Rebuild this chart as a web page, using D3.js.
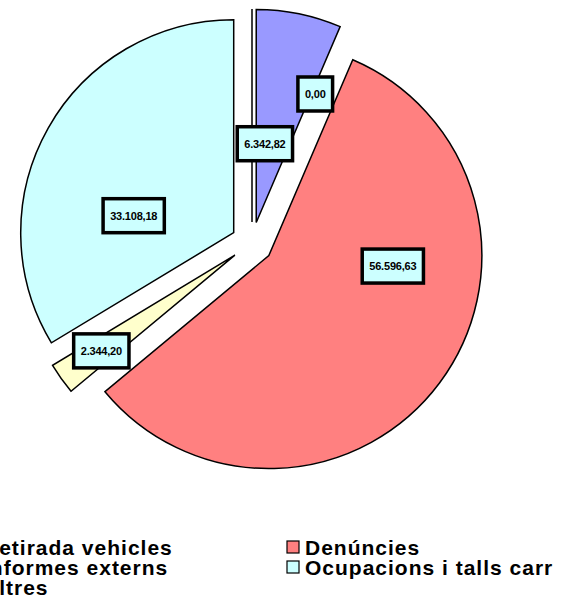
<!DOCTYPE html>
<html>
<head>
<meta charset="utf-8">
<script src="https://cdn.jsdelivr.net/npm/d3@7"></script>
<style>
  html, body { margin: 0; padding: 0; background: #fff; }
  svg { display: block; font-family: Arial, "Liberation Sans", sans-serif; }
</style>
</head>
<body>
<div class="chart"></div>
<script>
// chart data
var categories = ['Retirada vehicles', 'Denúncies', 'Informes externs', 'Ocupacions i talls carr', 'Altres'];
var values = [6342.82, 56596.63, 2344.20, 33108.18, 0];
var colors = ['#9999FF', '#FF8080', '#FFFFCC', '#CCFFFF', '#660066'];

// where each value label sits (degrees clockwise from top, fraction of radius)
var labelAngles = [7.4, 99.3, 234.4, 283, 23];
var labelRadii = [0.47, 0.67, 0.87, 0.57, 0.76];

var w = 562, h = 599;
var cx = 252, cy = 243, r = 213, explode = 21;

var svg = d3.select('.chart')
    .append('svg')
    .attr('width', w)
    .attr('height', h);

var locale = d3.formatLocale({decimal: ',', thousands: '.', grouping: [3], currency: ['', '']});
var fmt = locale.format(',.2f');

var pie = d3.pie().sort(null).value(function(d){ return d; });
var arcs = pie(values);
var arc = d3.arc().innerRadius(0).outerRadius(r);

var g = svg.append('g').attr('transform', 'translate(' + cx + ',' + cy + ')');

// draw zero slices first so they sit under the others
var order = arcs.map(function(d, i){ return i; }).sort(function(a, b){
    return (values[a] === 0 ? 0 : 1) - (values[b] === 0 ? 0 : 1);
});

g.selectAll('path.slice')
    .data(order.map(function(i){ return {a: arcs[i], i: i}; }))
    .enter()
    .append('path')
    .attr('class', 'slice')
    .attr('d', function(d){ return arc(d.a); })
    .attr('transform', function(d){
        var mid = (d.a.startAngle + d.a.endAngle) / 2;
        return 'translate(' + (explode * Math.sin(mid)) + ',' + (-explode * Math.cos(mid)) + ')';
    })
    .style('fill', function(d){ return colors[d.i]; })
    .style('stroke', '#000')
    .style('stroke-width', 1.5)
    .style('stroke-linejoin', 'miter');

// value labels
var angle = d3.scaleLinear().domain([0, 360]).range([0, 2 * Math.PI]);
var rad = d3.scaleLinear().domain([0, 1]).range([0, r]);

var labels = g.selectAll('g.lbl')
    .data(values)
    .enter()
    .append('g')
    .attr('class', 'lbl')
    .attr('transform', function(d, i){
        var a = angle(labelAngles[i]), rr = rad(labelRadii[i]);
        return 'translate(' + (rr * Math.sin(a)) + ',' + (-rr * Math.cos(a)) + ')';
    });

labels.append('rect')
    .style('fill', '#CCFFFF')
    .style('stroke', '#000')
    .style('stroke-width', 3.5);

labels.append('text')
    .attr('text-anchor', 'middle')
    .attr('dy', '0.36em')
    .style('font-size', '11px')
    .style('font-weight', 'bold')
    .style('letter-spacing', '-0.2px')
    .text(function(d){ return fmt(d); });

labels.each(function(){
    var t = d3.select(this).select('text').node().getBBox();
    d3.select(this).select('rect')
        .attr('x', -t.width / 2 - 7)
        .attr('y', -17)
        .attr('width', t.width + 14)
        .attr('height', 34);
});

// legend
var legend = svg.selectAll('g.legend')
    .data(categories)
    .enter()
    .append('g')
    .attr('class', 'legend')
    .attr('transform', function(d, i){
        var col = i % 2, row = Math.floor(i / 2);
        return 'translate(' + (col ? 287 : -35) + ',' + (541 + row * 20) + ')';
    });

legend.append('rect')
    .attr('width', 12)
    .attr('height', 12)
    .style('fill', function(d, i){ return colors[i]; })
    .style('stroke', '#000')
    .style('stroke-width', 1.2);

legend.append('text')
    .attr('x', 18)
    .attr('y', 14)
    .style('font-size', '21px')
    .style('font-weight', 'bold')
    .style('letter-spacing', '1px')
    .text(function(d){ return d; });
</script>
</body>
</html>
